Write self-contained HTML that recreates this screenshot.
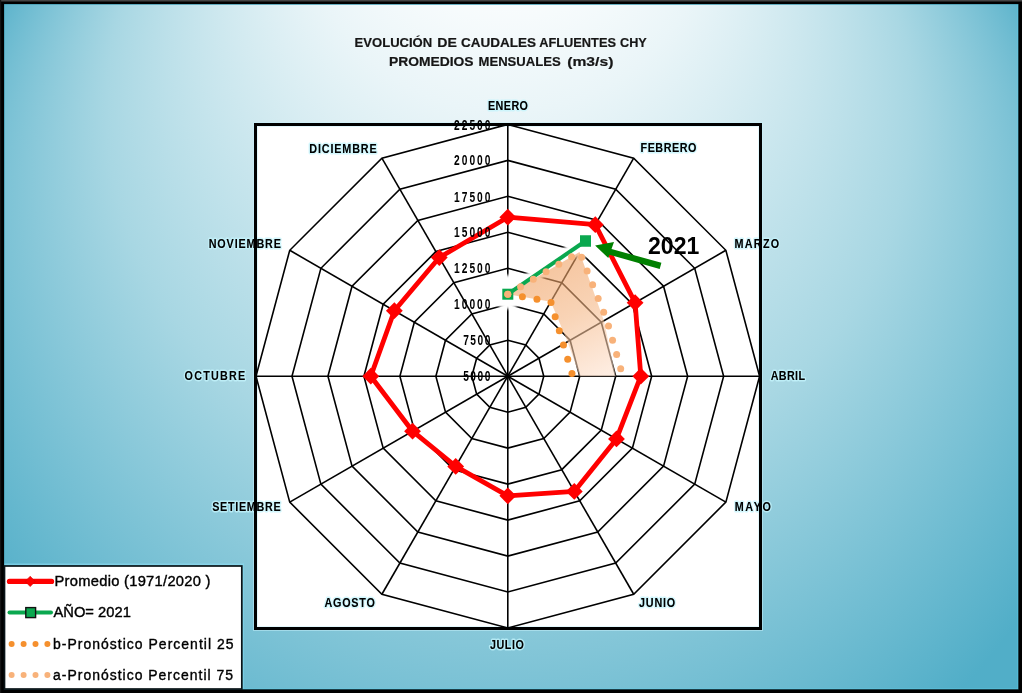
<!DOCTYPE html>
<html><head><meta charset="utf-8"><style>
html,body{margin:0;padding:0;background:#fff;width:1024px;height:695px;overflow:hidden}
svg{display:block;filter:blur(0.4px)}
text{font-family:"Liberation Sans",sans-serif}
</style></head><body>
<svg width="1024" height="695" viewBox="0 0 1024 695">
<defs>
<radialGradient id="bg" gradientUnits="userSpaceOnUse" gradientTransform="scale(1,0.9427)" cx="512.1" cy="317.6" r="610.5" fx="504.2" fy="-280.7">
<stop offset="0" stop-color="#ffffff"/>
<stop offset="0.19" stop-color="#ffffff"/>
<stop offset="0.33" stop-color="#eaf5f8"/>
<stop offset="0.66" stop-color="#a8d7e3"/>
<stop offset="1" stop-color="#51aec8"/>
</radialGradient>
<linearGradient id="fillg" gradientUnits="userSpaceOnUse" x1="540" y1="255" x2="600" y2="376">
<stop offset="0" stop-color="#ee9a58"/>
<stop offset="0.5" stop-color="#f4b684"/>
<stop offset="1" stop-color="#fde0cc"/>
</linearGradient>
<filter id="soft" x="-20%" y="-50%" width="140%" height="200%"><feGaussianBlur stdDeviation="1.6"/></filter>
</defs>
<rect x="0" y="0" width="1022" height="693" fill="#000"/>
<rect x="1" y="0" width="1021" height="1.5" fill="#444"/>
<rect x="0" y="0" width="1.2" height="693" fill="#141414"/>
<rect x="4.5" y="4.5" width="1013.5" height="684.5" fill="url(#bg)"/>
<rect x="4.5" y="4.5" width="1013.5" height="684.5" fill="none" stroke="#5fd2f0" stroke-width="1" stroke-opacity="0.6"/>
<rect x="255.5" y="124.5" width="505" height="504" fill="#fff" stroke="#c8f2fc" stroke-width="5" stroke-opacity="0.5"/>
<g fill="none" stroke="#000" stroke-width="1.6"><polygon points="507.80,340.23 525.79,345.05 538.95,358.21 543.77,376.20 538.95,394.19 525.79,407.35 507.80,412.17 489.81,407.35 476.65,394.19 471.83,376.20 476.65,358.21 489.81,345.05"/><polygon points="507.80,304.26 543.77,313.90 570.10,340.23 579.74,376.20 570.10,412.17 543.77,438.50 507.80,448.14 471.83,438.50 445.50,412.17 435.86,376.20 445.50,340.23 471.83,313.90"/><polygon points="507.80,268.29 561.76,282.74 601.26,322.24 615.71,376.20 601.26,430.16 561.76,469.66 507.80,484.11 453.84,469.66 414.34,430.16 399.89,376.20 414.34,322.24 453.84,282.74"/><polygon points="507.80,232.31 579.74,251.59 632.41,304.26 651.69,376.20 632.41,448.14 579.74,500.81 507.80,520.09 435.86,500.81 383.19,448.14 363.91,376.20 383.19,304.26 435.86,251.59"/><polygon points="507.80,196.34 597.73,220.44 663.56,286.27 687.66,376.20 663.56,466.13 597.73,531.96 507.80,556.06 417.87,531.96 352.04,466.13 327.94,376.20 352.04,286.27 417.87,220.44"/><polygon points="507.80,160.37 615.71,189.29 694.71,268.29 723.63,376.20 694.71,484.11 615.71,563.11 507.80,592.03 399.89,563.11 320.89,484.11 291.97,376.20 320.89,268.29 399.89,189.29"/><polygon points="507.80,124.40 633.70,158.13 725.87,250.30 759.60,376.20 725.87,502.10 633.70,594.27 507.80,628.00 381.90,594.27 289.73,502.10 256.00,376.20 289.73,250.30 381.90,158.13"/><line x1="507.80" y1="376.20" x2="507.80" y2="124.40"/><line x1="507.80" y1="376.20" x2="633.70" y2="158.13"/><line x1="507.80" y1="376.20" x2="725.87" y2="250.30"/><line x1="507.80" y1="376.20" x2="759.60" y2="376.20"/><line x1="507.80" y1="376.20" x2="725.87" y2="502.10"/><line x1="507.80" y1="376.20" x2="633.70" y2="594.27"/><line x1="507.80" y1="376.20" x2="507.80" y2="628.00"/><line x1="507.80" y1="376.20" x2="381.90" y2="594.27"/><line x1="507.80" y1="376.20" x2="289.73" y2="502.10"/><line x1="507.80" y1="376.20" x2="256.00" y2="376.20"/><line x1="507.80" y1="376.20" x2="289.73" y2="250.30"/><line x1="507.80" y1="376.20" x2="381.90" y2="158.13"/></g>
<g fill="#fff" filter="url(#soft)"><polyline points="507.8,294.2 585.5,241" fill="none" stroke="#fff" stroke-width="13" stroke-linecap="round"/><circle cx="507.8" cy="292" r="17"/><circle cx="581" cy="243" r="15"/><circle cx="588" cy="235" r="9"/></g>
<polygon points="507.80,294.20 579.50,252.01 603.93,320.70 615.71,376.20 579.74,376.20 567.56,341.70 550.80,301.72 507.80,294.20" fill="url(#fillg)" fill-opacity="0.6"/>
<polyline points="507.80,294.20 585.50,241.00" fill="none" stroke="#0aa84f" stroke-width="4"/><rect x="580.00" y="235.50" width="11" height="11" fill="#0aa84f"/><rect x="502.30" y="288.70" width="11" height="11" fill="#0aa84f"/><circle cx="507.80" cy="294.20" r="3.3" fill="#fde3cf"/><g fill="#f5902e"><circle cx="507.80" cy="294.20" r="3.50"/><circle cx="522.38" cy="296.75" r="3.50"/><circle cx="536.96" cy="299.30" r="3.50"/><circle cx="551.01" cy="302.44" r="3.50"/><circle cx="555.16" cy="316.64" r="3.50"/><circle cx="559.32" cy="330.85" r="3.50"/><circle cx="563.48" cy="345.05" r="3.50"/><circle cx="567.72" cy="359.23" r="3.50"/><circle cx="571.97" cy="373.41" r="3.50"/></g><g fill="#f8b27a"><circle cx="507.80" cy="294.20" r="3.50"/><circle cx="520.56" cy="286.69" r="3.50"/><circle cx="533.31" cy="279.19" r="3.50"/><circle cx="546.07" cy="271.68" r="3.50"/><circle cx="558.82" cy="264.18" r="3.50"/><circle cx="571.58" cy="256.67" r="3.50"/><circle cx="581.59" cy="257.22" r="3.50"/><circle cx="587.12" cy="270.95" r="3.50"/><circle cx="592.64" cy="284.68" r="3.50"/><circle cx="598.16" cy="298.41" r="3.50"/><circle cx="603.69" cy="312.14" r="3.50"/><circle cx="608.50" cy="326.11" r="3.50"/><circle cx="612.56" cy="340.34" r="3.50"/><circle cx="616.63" cy="354.58" r="3.50"/><circle cx="620.69" cy="368.81" r="3.50"/></g><rect x="580.00" y="235.50" width="11" height="11" fill="#0aa84f"/><polygon points="507.80,217.20 595.30,224.65 635.11,302.70 640.80,376.20 616.49,438.95 574.30,491.38 507.80,495.80 455.70,466.44 412.54,431.20 370.80,376.20 394.35,310.70 439.30,257.55" fill="none" stroke="#ff0000" stroke-width="4.8" stroke-linejoin="round"/><g fill="#ff0000"><polygon points="507.80,208.80 516.20,217.20 507.80,225.60 499.40,217.20"/><polygon points="595.30,216.25 603.70,224.65 595.30,233.05 586.90,224.65"/><polygon points="635.11,294.30 643.51,302.70 635.11,311.10 626.71,302.70"/><polygon points="640.80,367.80 649.20,376.20 640.80,384.60 632.40,376.20"/><polygon points="616.49,430.55 624.89,438.95 616.49,447.35 608.09,438.95"/><polygon points="574.30,482.98 582.70,491.38 574.30,499.78 565.90,491.38"/><polygon points="507.80,487.40 516.20,495.80 507.80,504.20 499.40,495.80"/><polygon points="455.70,458.04 464.10,466.44 455.70,474.84 447.30,466.44"/><polygon points="412.54,422.80 420.94,431.20 412.54,439.60 404.14,431.20"/><polygon points="370.80,367.80 379.20,376.20 370.80,384.60 362.40,376.20"/><polygon points="394.35,302.30 402.75,310.70 394.35,319.10 385.95,310.70"/><polygon points="439.30,249.15 447.70,257.55 439.30,265.95 430.90,257.55"/></g>
<polygon points="595.1,245.6 614,242.1 611.5,249 661.4,262.8 659.7,268.9 609.5,254.8 608.3,258" fill="#008000"/>
<text x="648" y="254.3" font-family="Liberation Sans" font-weight="bold" font-size="24.5px" textLength="51.3" lengthAdjust="spacingAndGlyphs">2021</text>
<g font-family="Liberation Sans"><text transform="translate(488.00 110.40) scale(0.900 1)" x="0" y="0" font-size="12.00px" font-weight="bold" fill="#000" textLength="44.44" lengthAdjust="spacing" stroke="#c4f4fc" stroke-width="3" stroke-opacity="0.75" stroke-linejoin="round">ENERO</text><text transform="translate(640.50 152.20) scale(0.900 1)" x="0" y="0" font-size="12.00px" font-weight="bold" fill="#000" textLength="62.22" lengthAdjust="spacing" stroke="#c4f4fc" stroke-width="3" stroke-opacity="0.75" stroke-linejoin="round">FEBRERO</text><text transform="translate(734.50 248.40) scale(0.900 1)" x="0" y="0" font-size="12.00px" font-weight="bold" fill="#000" textLength="49.67" lengthAdjust="spacing" stroke="#c4f4fc" stroke-width="3" stroke-opacity="0.75" stroke-linejoin="round">MARZO</text><text transform="translate(770.70 379.60) scale(0.900 1)" x="0" y="0" font-size="12.00px" font-weight="bold" fill="#000" textLength="38.11" lengthAdjust="spacing" stroke="#c4f4fc" stroke-width="3" stroke-opacity="0.75" stroke-linejoin="round">ABRIL</text><text transform="translate(734.80 511.10) scale(0.900 1)" x="0" y="0" font-size="12.00px" font-weight="bold" fill="#000" textLength="40.00" lengthAdjust="spacing" stroke="#c4f4fc" stroke-width="3" stroke-opacity="0.75" stroke-linejoin="round">MAYO</text><text transform="translate(639.10 606.80) scale(0.900 1)" x="0" y="0" font-size="12.00px" font-weight="bold" fill="#000" textLength="40.00" lengthAdjust="spacing" stroke="#c4f4fc" stroke-width="3" stroke-opacity="0.75" stroke-linejoin="round">JUNIO</text><text transform="translate(489.90 649.20) scale(0.900 1)" x="0" y="0" font-size="12.00px" font-weight="bold" fill="#000" textLength="37.78" lengthAdjust="spacing" stroke="#c4f4fc" stroke-width="3" stroke-opacity="0.75" stroke-linejoin="round">JULIO</text><text transform="translate(324.50 606.80) scale(0.900 1)" x="0" y="0" font-size="12.00px" font-weight="bold" fill="#000" textLength="55.89" lengthAdjust="spacing" stroke="#c4f4fc" stroke-width="3" stroke-opacity="0.75" stroke-linejoin="round">AGOSTO</text><text transform="translate(212.20 511.00) scale(0.900 1)" x="0" y="0" font-size="12.00px" font-weight="bold" fill="#000" textLength="76.00" lengthAdjust="spacing" stroke="#c4f4fc" stroke-width="3" stroke-opacity="0.75" stroke-linejoin="round">SETIEMBRE</text><text transform="translate(184.60 379.80) scale(0.900 1)" x="0" y="0" font-size="12.00px" font-weight="bold" fill="#000" textLength="67.33" lengthAdjust="spacing" stroke="#c4f4fc" stroke-width="3" stroke-opacity="0.75" stroke-linejoin="round">OCTUBRE</text><text transform="translate(208.70 248.00) scale(0.900 1)" x="0" y="0" font-size="12.00px" font-weight="bold" fill="#000" textLength="80.22" lengthAdjust="spacing" stroke="#c4f4fc" stroke-width="3" stroke-opacity="0.75" stroke-linejoin="round">NOVIEMBRE</text><text transform="translate(309.30 152.60) scale(0.900 1)" x="0" y="0" font-size="12.00px" font-weight="bold" fill="#000" textLength="74.89" lengthAdjust="spacing" stroke="#c4f4fc" stroke-width="3" stroke-opacity="0.75" stroke-linejoin="round">DICIEMBRE</text><text transform="translate(488.00 110.40) scale(0.900 1)" x="0" y="0" font-size="12.00px" font-weight="bold" fill="#000" textLength="44.44" lengthAdjust="spacing" >ENERO</text><text transform="translate(640.50 152.20) scale(0.900 1)" x="0" y="0" font-size="12.00px" font-weight="bold" fill="#000" textLength="62.22" lengthAdjust="spacing" >FEBRERO</text><text transform="translate(734.50 248.40) scale(0.900 1)" x="0" y="0" font-size="12.00px" font-weight="bold" fill="#000" textLength="49.67" lengthAdjust="spacing" >MARZO</text><text transform="translate(770.70 379.60) scale(0.900 1)" x="0" y="0" font-size="12.00px" font-weight="bold" fill="#000" textLength="38.11" lengthAdjust="spacing" >ABRIL</text><text transform="translate(734.80 511.10) scale(0.900 1)" x="0" y="0" font-size="12.00px" font-weight="bold" fill="#000" textLength="40.00" lengthAdjust="spacing" >MAYO</text><text transform="translate(639.10 606.80) scale(0.900 1)" x="0" y="0" font-size="12.00px" font-weight="bold" fill="#000" textLength="40.00" lengthAdjust="spacing" >JUNIO</text><text transform="translate(489.90 649.20) scale(0.900 1)" x="0" y="0" font-size="12.00px" font-weight="bold" fill="#000" textLength="37.78" lengthAdjust="spacing" >JULIO</text><text transform="translate(324.50 606.80) scale(0.900 1)" x="0" y="0" font-size="12.00px" font-weight="bold" fill="#000" textLength="55.89" lengthAdjust="spacing" >AGOSTO</text><text transform="translate(212.20 511.00) scale(0.900 1)" x="0" y="0" font-size="12.00px" font-weight="bold" fill="#000" textLength="76.00" lengthAdjust="spacing" >SETIEMBRE</text><text transform="translate(184.60 379.80) scale(0.900 1)" x="0" y="0" font-size="12.00px" font-weight="bold" fill="#000" textLength="67.33" lengthAdjust="spacing" >OCTUBRE</text><text transform="translate(208.70 248.00) scale(0.900 1)" x="0" y="0" font-size="12.00px" font-weight="bold" fill="#000" textLength="80.22" lengthAdjust="spacing" >NOVIEMBRE</text><text transform="translate(309.30 152.60) scale(0.900 1)" x="0" y="0" font-size="12.00px" font-weight="bold" fill="#000" textLength="74.89" lengthAdjust="spacing" >DICIEMBRE</text></g><g font-family="Liberation Sans"><text transform="translate(463.20 381.20) scale(0.740 1)" x="0" y="0" font-size="13.80px" font-weight="bold" fill="#000" textLength="36.76" lengthAdjust="spacing" >5000</text><text transform="translate(463.20 345.20) scale(0.740 1)" x="0" y="0" font-size="13.80px" font-weight="bold" fill="#000" textLength="36.76" lengthAdjust="spacing" >7500</text><text transform="translate(454.10 309.30) scale(0.740 1)" x="0" y="0" font-size="13.80px" font-weight="bold" fill="#000" textLength="49.05" lengthAdjust="spacing" >10000</text><text transform="translate(454.10 273.20) scale(0.740 1)" x="0" y="0" font-size="13.80px" font-weight="bold" fill="#000" textLength="49.05" lengthAdjust="spacing" >12500</text><text transform="translate(454.10 237.30) scale(0.740 1)" x="0" y="0" font-size="13.80px" font-weight="bold" fill="#000" textLength="49.05" lengthAdjust="spacing" >15000</text><text transform="translate(454.10 201.50) scale(0.740 1)" x="0" y="0" font-size="13.80px" font-weight="bold" fill="#000" textLength="49.05" lengthAdjust="spacing" >17500</text><text transform="translate(454.10 165.40) scale(0.740 1)" x="0" y="0" font-size="13.80px" font-weight="bold" fill="#000" textLength="49.05" lengthAdjust="spacing" >20000</text><text transform="translate(454.10 129.50) scale(0.740 1)" x="0" y="0" font-size="13.80px" font-weight="bold" fill="#000" textLength="49.05" lengthAdjust="spacing" >22500</text></g><g font-family="Liberation Sans"><text transform="translate(354.60 46.70) scale(1.000 1)" x="0" y="0" font-size="13.10px" font-weight="bold" fill="#161616" textLength="77.60" lengthAdjust="spacingAndGlyphs" stroke="#161616" stroke-width="0.2">EVOLUCIÓN</text><text transform="translate(437.20 46.70) scale(1.000 1)" x="0" y="0" font-size="13.10px" font-weight="bold" fill="#161616" textLength="19.60" lengthAdjust="spacingAndGlyphs" stroke="#161616" stroke-width="0.2">DE</text><text transform="translate(461.00 46.70) scale(1.000 1)" x="0" y="0" font-size="13.10px" font-weight="bold" fill="#161616" textLength="75.00" lengthAdjust="spacingAndGlyphs" stroke="#161616" stroke-width="0.2">CAUDALES</text><text transform="translate(539.20 46.70) scale(1.000 1)" x="0" y="0" font-size="13.10px" font-weight="bold" fill="#161616" textLength="76.80" lengthAdjust="spacingAndGlyphs" stroke="#161616" stroke-width="0.2">AFLUENTES</text><text transform="translate(620.10 46.70) scale(1.000 1)" x="0" y="0" font-size="13.10px" font-weight="bold" fill="#161616" textLength="26.70" lengthAdjust="spacingAndGlyphs" stroke="#161616" stroke-width="0.2">CHY</text><text transform="translate(388.90 66.00) scale(1.000 1)" x="0" y="0" font-size="13.10px" font-weight="bold" fill="#161616" textLength="84.70" lengthAdjust="spacingAndGlyphs" stroke="#161616" stroke-width="0.2">PROMEDIOS</text><text transform="translate(478.50 66.00) scale(1.000 1)" x="0" y="0" font-size="13.10px" font-weight="bold" fill="#161616" textLength="82.20" lengthAdjust="spacingAndGlyphs" stroke="#161616" stroke-width="0.2">MENSUALES</text><text transform="translate(567.20 66.00) scale(1.000 1)" x="0" y="0" font-size="13.10px" font-weight="bold" fill="#161616" textLength="46.20" lengthAdjust="spacingAndGlyphs" stroke="#161616" stroke-width="0.2">(m3/s)</text></g>
<rect x="255.5" y="124.5" width="505" height="504" fill="none" stroke="#000" stroke-width="3"/>
<rect x="4.5" y="563.6" width="239.5" height="1.2" fill="#8ee0f6" opacity="0.7"/><rect x="4.5" y="566" width="237.3" height="123" fill="#fff" stroke="#0a1418" stroke-width="1.7"/>
<rect x="243" y="563.5" width="1" height="125" fill="#7fd8f0" opacity="0.6"/>
<line x1="9.5" y1="581.4" x2="51.5" y2="581.4" stroke="#ff0000" stroke-width="5.3" stroke-linecap="round"/>
<polygon points="30.2,576.2 35.2,581.4 30.2,586.6 25.2,581.4" fill="#ff0000" stroke="#d00000" stroke-width="0.6"/>
<line x1="9.5" y1="612.6" x2="51" y2="612.6" stroke="#0aa84f" stroke-width="4" stroke-linecap="round"/>
<rect x="25.8" y="607.6" width="9.8" height="10" fill="#0aa84f" stroke="#111" stroke-width="1.4"/>
<g fill="#f5902e"><circle cx="11.6" cy="643.9" r="3"/><circle cx="23.6" cy="643.9" r="3"/><circle cx="35.5" cy="643.9" r="3"/><circle cx="47.4" cy="643.9" r="3"/></g>
<g fill="#f8b27a"><circle cx="11.6" cy="675" r="3"/><circle cx="23.6" cy="675" r="3"/><circle cx="35.5" cy="675" r="3"/><circle cx="47.4" cy="675" r="3"/></g>
<g font-family="Liberation Sans"><text transform="translate(54.50 586.10) scale(0.950 1)" x="0" y="0" font-size="15.50px" font-weight="normal" fill="#000" textLength="164.21" lengthAdjust="spacing" stroke="#000" stroke-width="0.4">Promedio (1971/2020 )</text><text transform="translate(53.40 616.70) scale(0.950 1)" x="0" y="0" font-size="15.50px" font-weight="normal" fill="#000" textLength="81.58" lengthAdjust="spacing" stroke="#000" stroke-width="0.4">AÑO= 2021</text><text transform="translate(53.00 649.40) scale(0.900 1)" x="0" y="0" font-size="15.50px" font-weight="normal" fill="#000" textLength="200.56" lengthAdjust="spacing" stroke="#000" stroke-width="0.4">b-Pronóstico Percentil 25</text><text transform="translate(53.00 680.00) scale(0.900 1)" x="0" y="0" font-size="15.50px" font-weight="normal" fill="#000" textLength="200.00" lengthAdjust="spacing" stroke="#000" stroke-width="0.4">a-Pronóstico Percentil 75</text></g>
</svg>
</body></html>
